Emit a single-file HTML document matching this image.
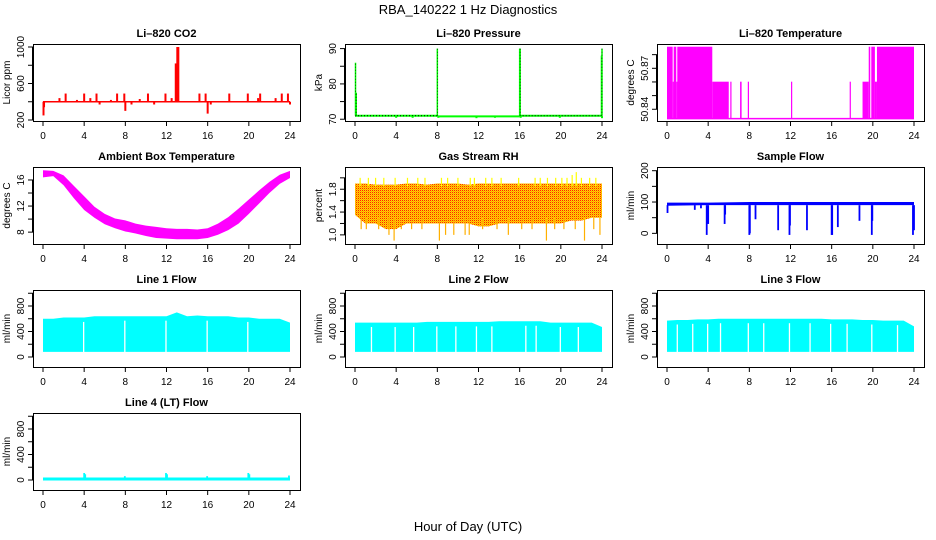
<!DOCTYPE html>
<html><head><meta charset="utf-8">
<style>
body{margin:0;background:#fff;}
svg{display:block;font-family:"Liberation Sans",sans-serif;}
text{fill:#000;}
</style></head>
<body>
<svg id="c" width="936" height="540" viewBox="0 0 936 540" xmlns="http://www.w3.org/2000/svg">
<defs>
<pattern id="rhpat" width="2" height="2" patternUnits="userSpaceOnUse">
<rect width="2" height="2" fill="#ffd800"/><rect width="1" height="1" fill="#ff2000"/><rect x="1" y="1" width="1" height="1" fill="#ffa000"/>
</pattern>
</defs>
<text x="468" y="14" text-anchor="middle" font-size="13">RBA_140222  1 Hz Diagnostics</text>
<text x="468" y="531" text-anchor="middle" font-size="13">Hour of Day (UTC)</text>
</svg>
<script>
// ---- data ----
const xTicks = [0,4,8,12,16,20,24];
const co2Base = 400;
const co2SpikeHours = [0.05,0.1,1.6,2.2,3.3,4.0,4.6,5.2,5.5,6.6,7.2,7.9,8.0,8.6,9.4,10.2,10.8,11.9,12.5,12.9,12.95,13.0,13.05,13.1,13.15,15.2,15.8,16.0,16.3,18.1,19.9,20.9,21.1,22.6,23.2,23.8,24];
const co2SpikeValues = [250,340,440,490,420,490,440,490,370,420,490,490,300,370,430,490,370,490,440,820,640,600,1000,1000,1000,490,490,270,370,490,490,440,490,440,490,490,370];
const presBaseHours = [0,8,16,24];
const presBaseValues = [71.0,70.8,71.0];
const presSpikeHours = [0.05,0.12,8.0,16.0,16.05,23.95,24.0];
const presSpikeValues = [86,77.5,90,90,90,88,90];
const presDipHours = [4,5.6,8.1,11.8,13.6,16.1,19.9,24];
const presDipValues = [70.4,70.4,70.4,70.3,70.4,70.4,70.4,70.3];
const tempBase = 50.8331;
const tempX0 = [0,0.55,0.65,0.9,1.0,4.4,6.15,7.1,7.85,12.05,17.75,19.0,19.6,19.85,20.2,20.4];
const tempX1 = [0.55,0.65,0.9,1.0,4.4,6.0,6.25,7.25,7.95,12.12,17.82,19.6,19.75,20.2,20.4,24];
const tempHi = [50.8858,50.8602,50.8858,50.8602,50.8858,50.8602,50.8602,50.8602,50.8602,50.8602,50.8602,50.8602,50.8858,50.8858,50.8602,50.8858];
const ambHours = [0,1,2,3,4,5,6,7,8,9,10,11,12,13,14,15,16,17,18,19,20,21,22,23,24];
const ambLo = [16.4,16.6,15.2,13.2,11.4,10.2,9.2,8.6,8.1,7.8,7.4,7.1,7.0,6.9,6.9,6.9,7.1,7.6,8.3,9.3,10.8,12.4,14.0,15.4,16.3];
const ambHi = [17.5,17.4,16.7,15.1,13.5,11.9,10.8,10.1,9.8,9.3,9.0,8.8,8.6,8.5,8.5,8.4,8.6,9.3,10.3,11.6,13.0,14.4,15.7,16.8,17.4];
const rhHours = [0,1,2,3,4,5,6,7,8,9,10,11,12,13,14,15,16,17,18,19,20,21,22,23,24];
const rhLo = [1.35,1.2,1.2,1.1,1.1,1.2,1.2,1.2,1.2,1.2,1.2,1.2,1.15,1.15,1.2,1.2,1.2,1.2,1.2,1.2,1.2,1.25,1.25,1.3,1.3];
const rhHi = [1.9,1.9,1.88,1.88,1.88,1.9,1.9,1.88,1.9,1.9,1.9,1.88,1.9,1.9,1.9,1.9,1.9,1.9,1.9,1.9,1.9,1.9,1.9,1.9,1.9];
const rhUpHours = [0.5,1.3,2.0,2.8,3.9,5.1,6.1,6.8,8.4,9.0,10.0,11.2,11.6,12.7,13.3,14.2,15.9,17.5,18.0,18.7,19.5,20.1,20.6,21.1,21.5,22.0,22.8,23.4];
const rhUpValues = [2.0,2.0,2.0,2.0,2.0,2.0,2.0,2.0,2.0,2.0,2.0,2.0,2.0,2.0,2.0,2.0,2.0,2.0,2.0,2.0,2.0,2.0,2.0,2.05,2.1,2.0,2.0,2.0];
const rhDownHours = [0.6,1.1,2.3,3.3,3.8,4.5,5.5,6.5,8.2,8.8,9.6,10.7,11.1,12.4,13.8,14.9,16.2,17.2,18.6,19.4,20.3,21.4,22.3,23.2,23.8];
const rhDownValues = [1.1,1.1,1.1,1.0,0.9,1.1,1.1,1.1,0.9,1.0,1.0,1.0,1.0,1.1,1.1,1.0,1.1,1.1,0.9,1.1,1.1,1.1,0.9,1.1,1.0];
const flowHours = [0,4,8,12,16,20,24];
const flowLo = [88,90,90,90,90,90,90];
const flowHi = [98,98,100,100,100,100,100];
const flowDipHours = [0.05,2.7,3.3,3.86,4.0,5.6,5.65,8.0,8.05,8.6,10.8,11.9,11.95,13.6,16.0,16.05,16.6,18.7,19.9,19.95,23.9,24.0];
const flowDipValues = [65,75,80,-5,30,30,60,-5,0,45,10,-5,25,10,-5,-5,20,40,-5,40,-5,10];
const line1Hours = [0,1,2,3,4,5,6,7,8,9,10,11,12,13,14,15,16,17,18,19,20,21,22,23,24];
const line1Hi = [600,600,620,620,620,640,640,640,640,640,640,640,640,700,640,650,640,640,640,620,620,600,600,600,540];
const line1Gaps = [3.95,7.95,11.95,15.95,19.9];
const line2Hi = [540,540,540,540,540,540,540,550,550,550,550,550,550,550,560,560,560,560,560,540,540,540,540,540,470];
const line2Gaps = [1.6,3.9,5.7,7.95,9.8,11.8,13.3,16.6,17.6,19.95,21.7];
const line3Hi = [570,580,580,590,590,600,600,600,600,600,600,600,600,600,600,600,590,590,590,580,580,570,570,570,480];
const line3Gaps = [1.0,2.5,3.95,5.2,7.9,9.4,11.9,13.9,15.9,17.5,19.9,22.4];
const line4Base = 15;
const line4SpikeHours = [4.0,4.1,7.95,11.95,12.05,15.95,19.95,20.05,23.9];
const line4SpikeValues = [110,90,60,110,90,60,110,90,70];
const flowLineLo = 80;

// ---- layout ----
const NS = "http://www.w3.org/2000/svg";
const svg = document.getElementById('c');
const colX = [33,345,657], rowY = [44,167,290,413], BW = 267, BH = 77;
function mk(tag, attrs, parent){
  const e = document.createElementNS(NS, tag);
  for (const k in attrs) e.setAttribute(k, attrs[k]);
  (parent||svg).appendChild(e);
  return e;
}
function panel(col,row,title,ylab,lo,hi,ticks,labels,name){
  const x0 = colX[col], y0 = rowY[row];
  const g = mk('g',{});
  
  
  const xs = h => x0 + 10 + h*(247/24);
  const ys = v => y0 + BH - (v-lo)/(hi-lo)*BH;
  const t = mk('text',{x:x0+BW/2,y:y0-7,'text-anchor':'middle','font-size':11,'font-weight':'bold'},g);
  t.textContent = title;
  
  
  const yl = mk('text',{transform:`translate(${x0-23},${y0+BH/2}) rotate(-90)`,'text-anchor':'middle','font-size':10},g);
  yl.textContent = ylab;
  
  
  const plot = mk('g',{},g);
  
  
  const ax = mk('g',{stroke:'#000','stroke-width':1,fill:'none'},g);
  
  
  mk('line',{x1:xs(0),x2:xs(24),y1:y0+BH+0.5,y2:y0+BH+0.5},ax);
  xTicks.forEach(h=>{
    mk('line',{x1:xs(h),x2:xs(h),y1:y0+BH,y2:y0+BH+5},ax);
    const l = mk('text',{x:xs(h),y:y0+BH+18,'text-anchor':'middle','font-size':10,stroke:'none'},g);
    l.textContent = h;
    
    
  });
  mk('line',{x1:x0-0.5,x2:x0-0.5,y1:ys(ticks[0]),y2:ys(ticks[ticks.length-1])},ax);
  ticks.forEach((v,i)=>{
    mk('line',{x1:x0-5,x2:x0,y1:ys(v),y2:ys(v)},ax);
    if (labels[i]!==''){
      const l = mk('text',{transform:`translate(${x0-9},${ys(v)}) rotate(-90)`,'text-anchor':'middle','font-size':10,stroke:'none'},g);
      l.textContent = labels[i];
      
      
    }
  });
  const box = mk('rect',{x:x0+0.5,y:y0+0.5,width:BW,height:BH,fill:'none',stroke:'#000'},g);
  
  
  return {xs,ys,plot};
}
function vseg(p,x,v1,v2,color,w,parent){
  const e = mk('line',{x1:p.xs(x),x2:p.xs(x),y1:p.ys(v1),y2:p.ys(v2),stroke:color,'stroke-width':w||1.5},parent||p.plot);
  
  
  return e;
}
function hline(p,x1,x2,v,color,w){
  const e = mk('line',{x1:p.xs(x1),x2:p.xs(x2),y1:p.ys(v),y2:p.ys(v),stroke:color,'stroke-width':w||1.5},p.plot);
  
  
  return e;
}
function band(p,hours,lo,hi,fill){
  let pts = hours.map((h,i)=>p.xs(h)+','+p.ys(hi[i]));
  for (let i=hours.length-1;i>=0;i--) pts.push(p.xs(hours[i])+','+p.ys(lo[i]));
  const e = mk('polygon',{points:pts.join(' '),fill:fill,stroke:'none'},p.plot);
  
  
}

// CO2
let p = panel(0,0,'Li\u2013820 CO2','Licor ppm',189,1033,[200,400,600,800,1000],['200','','600','','1000'],'co2-panel');
hline(p,0,24,co2Base,'#f00',1.5);
co2SpikeHours.forEach((h,i)=>vseg(p,h,co2Base,co2SpikeValues[i],'#f00',2));

// Pressure
p = panel(1,0,'Li\u2013820 Pressure','kPa',69.5,91.3,[70,75,80,85,90],['70','','80','','90'],'pressure-panel');
presBaseValues.forEach((v,i)=>{
  hline(p,presBaseHours[i],presBaseHours[i+1],v,'#0f0',2);
  const d = hline(p,presBaseHours[i],presBaseHours[i+1],v,'#000',1);
  d.setAttribute('stroke-dasharray', i===1 ? '0' : '1,2');
  if(i===1) d.setAttribute('stroke','#0f0');
});
presDipHours.forEach((h,i)=>vseg(p,h,70.9,presDipValues[i],'#0f0',2));
presSpikeHours.forEach((h,i)=>{vseg(p,h,71,presSpikeValues[i],'#0f0',1.5);vseg(p,h,71,presSpikeValues[i],'#000',0.6).setAttribute('stroke-dasharray','1,2');});

// Li-820 temperature
p = panel(2,0,'Li\u2013820 Temperature','degrees C',50.8314,50.8878,[50.84,50.85,50.86,50.87,50.88],['50.84','','','50.87',''],'li820-temp-panel');
hline(p,0,24,tempBase,'#f0f',1.5);
tempX0.forEach((x,i)=>{
  const r = mk('rect',{x:p.xs(x),y:p.ys(tempHi[i]),width:Math.max(1.2,p.xs(tempX1[i])-p.xs(x)),height:p.ys(tempBase)-p.ys(tempHi[i]),fill:'#f0f'},p.plot);
  
  
});

// Ambient box temperature
p = panel(0,1,'Ambient Box Temperature','degrees C',6.18,17.99,[8,10,12,14,16],['8','','12','','16'],'ambient-temp-panel');
band(p,ambHours,ambLo,ambHi,'#f0f');

// Gas stream RH
p = panel(1,1,'Gas Stream RH','percent',0.84,2.19,[1.0,1.2,1.4,1.6,1.8,2.0],['1.0','','1.4','','1.8',''],'rh-panel');
band(p,rhHours,rhLo,rhHi,'url(#rhpat)');
rhUpHours.forEach((h,i)=>vseg(p,h,1.85,rhUpValues[i],'#ff0',1.2));
rhDownHours.forEach((h,i)=>vseg(p,h,1.3,rhDownValues[i],'#ffb000',1.2));

// Sample flow
p = panel(2,1,'Sample Flow','ml/min',-34,211.8,[0,50,100,150,200],['0','','100','','200'],'sample-flow-panel');
band(p,flowHours,flowLo,flowHi,'#00f');
flowDipHours.forEach((h,i)=>vseg(p,h,90,flowDipValues[i],'#00f',1.8));

// Line flows
const fT = [0,200,400,600,800,1000], fL = ['0','','400','','800',''];
function linePanel(col,row,title,name,hiArr,gaps){
  const q = panel(col,row,title,'ml/min',-157,1051,fT,fL,name);
  band(q,line1Hours,line1Hours.map(()=>flowLineLo),hiArr,'#0ff');
  gaps.forEach(h=>{
    const i = Math.round(h);
    vseg(q,h,flowLineLo-5,hiArr[Math.min(i,24)]-70,'#fff',1.3);
  });
  return q;
}
linePanel(0,2,'Line 1 Flow','line1-flow-panel',line1Hi,line1Gaps);
linePanel(1,2,'Line 2 Flow','line2-flow-panel',line2Hi,line2Gaps);
linePanel(2,2,'Line 3 Flow','line3-flow-panel',line3Hi,line3Gaps);
p = panel(0,3,'Line 4 (LT) Flow','ml/min',-157,1051,fT,fL,'line4-flow-panel');
hline(p,0,24,line4Base,'#0ff',3);
line4SpikeHours.forEach((h,i)=>vseg(p,h,line4Base,line4SpikeValues[i],'#0ff',1.8));
</script>
</body></html>
